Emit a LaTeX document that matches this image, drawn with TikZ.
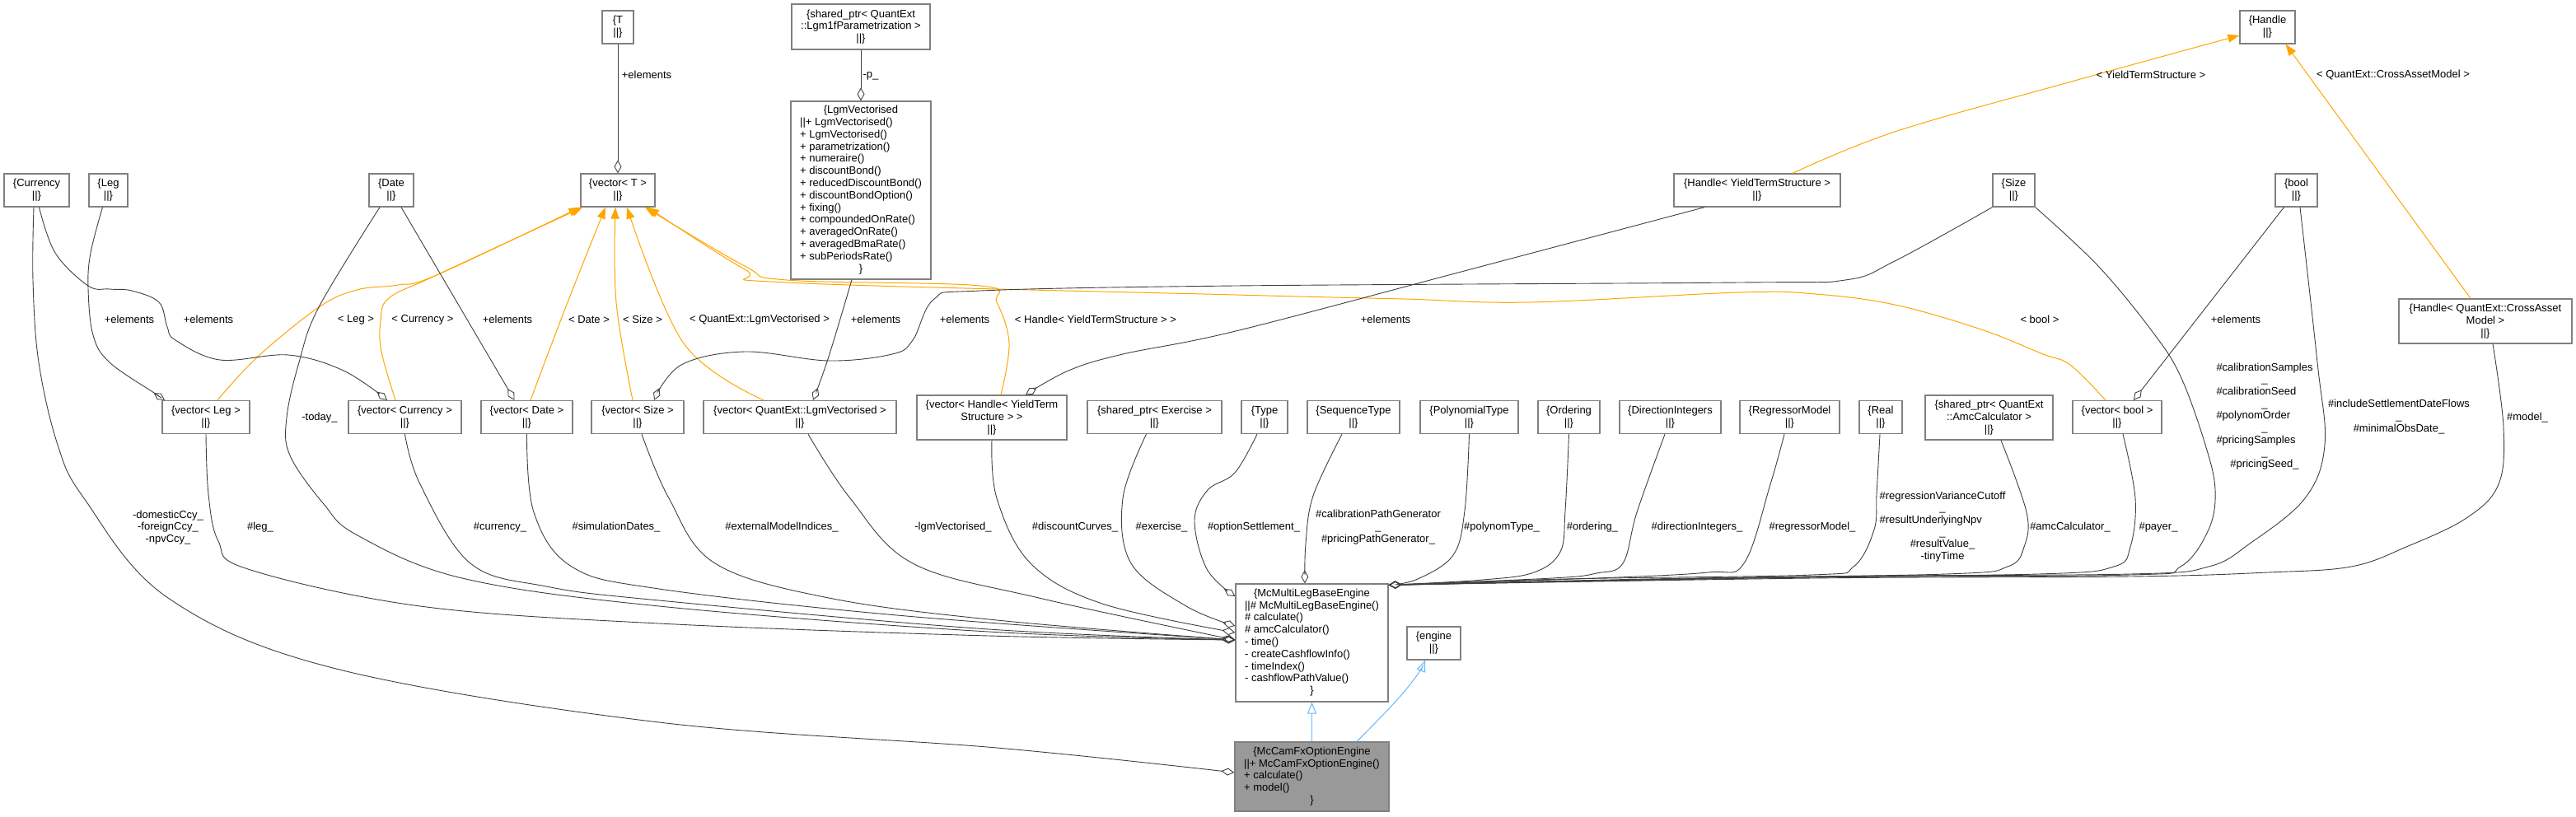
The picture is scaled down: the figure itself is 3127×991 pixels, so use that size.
\documentclass[tikz,border=0pt]{standalone}
\usepackage{fontspec}
\setmainfont{Liberation Sans}
\usetikzlibrary{arrows.meta}

\definecolor{edgegray}{HTML}{404040}
\definecolor{boxline}{HTML}{808080}
\definecolor{tmplorange}{HTML}{FFA500}
\definecolor{inhblue}{HTML}{63B8FF}
\definecolor{classgray}{HTML}{999999}
\newcommand{\umlfont}{\fontsize{13}{14.8}\selectfont}
\newcommand{\rolefont}{\fontsize{13}{14.7}\selectfont}
\newcommand{\crow}[1]{\multicolumn{1}{@{}c@{}}{#1}}

\begin{document}
\begin{tikzpicture}[
  x=1pt, y=-1pt,
  box/.style={draw=boxline, line width=1.3pt, fill=white, inner sep=0pt, align=center, font=\umlfont, minimum height=40pt},
  agg/.style={draw=edgegray, line width=0.9pt, -{Diamond[open, length=16pt, width=9pt]}},
  tmpl/.style={draw=tmplorange, line width=1pt, -{Triangle[length=14pt, width=10pt]}},
  inh/.style={draw=inhblue, line width=1pt, -{Triangle[open, length=14pt, width=11pt]}},
  lbl/.style={font=\rolefont, align=center, inner sep=0pt},
  sm/.style={smooth, tension=0.6},
]
\useasboundingbox (0,0) rectangle (3127,991);

% ---------------------------------------------------------------
% top row
% ---------------------------------------------------------------
\node[box, minimum width=38pt] (t) at (750,33) {\{T\\||\}};
\node[box, minimum width=168pt, minimum height=55pt] (lgmparam) at (1045,32.5) {\{shared\_ptr< QuantExt\\::Lgm1fParametrization >\\||\}};
\node[box, minimum width=67pt] (handle) at (2752.5,33) {\{Handle\\||\}};

% ---------------------------------------------------------------
% templates and plain types
% ---------------------------------------------------------------
\node[box, minimum width=79pt] (currency) at (44.5,231) {\{Currency\\||\}};
\node[box, minimum width=47pt] (leg) at (131.5,231) {\{Leg\\||\}};
\node[box, minimum width=54pt] (date) at (475,231) {\{Date\\||\}};
\node[box, minimum width=90pt] (vect) at (750,231) {\{vector< T >\\||\}};
\node[box, minimum width=170pt, minimum height=216pt] (lgmvec) at (1045,231) {%
  \begin{tabular}{@{}l@{}}
  \crow{\{LgmVectorised}\\
  ||+ LgmVectorised()\\
  + LgmVectorised()\\
  + parametrization()\\
  + numeraire()\\
  + discountBond()\\
  + reducedDiscountBond()\\
  + discountBondOption()\\
  + fixing()\\
  + compoundedOnRate()\\
  + averagedOnRate()\\
  + averagedBmaRate()\\
  + subPeriodsRate()\\
  \crow{\}}
  \end{tabular}};
\node[box, minimum width=202pt] (handleyts) at (2133,231) {\{Handle< YieldTermStructure >\\||\}};
\node[box, minimum width=51pt] (size) at (2444.5,231) {\{Size\\||\}};
\node[box, minimum width=51pt] (bool) at (2787.5,231) {\{bool\\||\}};
\node[box, minimum width=210pt, minimum height=54pt] (handlecam) at (3017,390) {\{Handle< QuantExt::CrossAsset\\Model >\\||\}};

% ---------------------------------------------------------------
% member types
% ---------------------------------------------------------------
\node[box, minimum width=106pt] (vleg) at (250,506.5) {\{vector< Leg >\\||\}};
\node[box, minimum width=137pt] (vcur) at (491.5,506.5) {\{vector< Currency >\\||\}};
\node[box, minimum width=111pt] (vdate) at (639.5,506.5) {\{vector< Date >\\||\}};
\node[box, minimum width=112pt] (vsize) at (774,506.5) {\{vector< Size >\\||\}};
\node[box, minimum width=234pt] (vlgm) at (971,506.5) {\{vector< QuantExt::LgmVectorised >\\||\}};
\node[box, minimum width=182pt, minimum height=54pt] (vyts) at (1204,507) {\{vector< Handle< YieldTerm\\Structure > >\\||\}};
\node[box, minimum width=163pt] (exercise) at (1401.5,506.5) {\{shared\_ptr< Exercise >\\||\}};
\node[box, minimum width=56pt] (type) at (1535,506.5) {\{Type\\||\}};
\node[box, minimum width=112pt] (seqtype) at (1643,506.5) {\{SequenceType\\||\}};
\node[box, minimum width=119pt] (polytype) at (1783.5,506.5) {\{PolynomialType\\||\}};
\node[box, minimum width=75pt] (ordering) at (1904.5,506.5) {\{Ordering\\||\}};
\node[box, minimum width=123pt] (dirint) at (2027.5,506.5) {\{DirectionIntegers\\||\}};
\node[box, minimum width=121pt] (regmodel) at (2172.5,506.5) {\{RegressorModel\\||\}};
\node[box, minimum width=52pt] (real) at (2283,506.5) {\{Real\\||\}};
\node[box, minimum width=155pt, minimum height=54pt] (amccalc) at (2414.5,507) {\{shared\_ptr< QuantExt\\::AmcCalculator >\\||\}};
\node[box, minimum width=108pt] (vbool) at (2570,506.5) {\{vector< bool >\\||\}};

% ---------------------------------------------------------------
% engines
% ---------------------------------------------------------------
\node[box, minimum width=185pt, minimum height=143pt] (base) at (1592.5,780.5) {%
  \begin{tabular}{@{}l@{}}
  \crow{\{McMultiLegBaseEngine}\\
  ||\# McMultiLegBaseEngine()\\
  \# calculate()\\
  \# amcCalculator()\\
  - time()\\
  - createCashflowInfo()\\
  - timeIndex()\\
  - cashflowPathValue()\\
  \crow{\}}
  \end{tabular}};
\node[box, minimum width=65pt] (engine) at (1740.5,781) {\{engine\\||\}};
\node[box, fill=classgray, minimum width=187pt, minimum height=84pt] (mccam) at (1592.5,943) {%
  \begin{tabular}{@{}l@{}}
  \crow{\{McCamFxOptionEngine}\\
  ||+ McCamFxOptionEngine()\\
  + calculate()\\
  + model()\\
  \crow{\}}
  \end{tabular}};

% ---------------------------------------------------------------
% template instantiations
% ---------------------------------------------------------------
\draw[tmpl] plot[sm] coordinates {([xshift=14pt]vleg.north) (313,433) (387,373) (433,352) (483,346) (530,334) (vect.south west)};
\draw[tmpl] plot[sm] coordinates {([xshift=-11.5pt]vcur.north) (463,427) (462,390) (472,362) (530,334) ([xshift=3pt]vect.south west)};
\draw[tmpl] plot[sm] coordinates {([xshift=4.5pt]vdate.north) (689,367) ([xshift=-15pt]vect.south)};
\draw[tmpl] plot[sm] coordinates {([xshift=-6pt]vsize.north) (748,367) ([xshift=-3pt]vect.south)};
\draw[tmpl] plot[sm] coordinates {([xshift=-44pt]vlgm.north) (830,417) ([xshift=11pt]vect.south)};
\draw[tmpl] plot[sm] coordinates {([xshift=11pt]vyts.north) (1225,417) (1210,367) (1190,347) (955,340) (904,323) ([xshift=33pt]vect.south)};
\draw[tmpl] plot[sm] coordinates {([xshift=-14pt]vbool.north) (2513,443) (2480,430) (2405,400) (2300,370) (2204,357) (2112,355) (1857,367) (1704,363) (1500,358) (955,343) (904,327) ([xshift=36pt]vect.south)};
\draw[tmpl] plot[sm] coordinates {([xshift=43pt]handleyts.north) (2300,160) (2511,100) ([yshift=-10pt]handle.west)};
\draw[tmpl] ([xshift=-18pt]handlecam.north) -- ([xshift=22pt]handle.south);

\node[lbl] (l-tleg) at (432,388) {< Leg >};
\node[lbl] (l-tcur) at (513,388) {< Currency >};
\node[lbl] (l-tdate) at (715,388) {< Date >};
\node[lbl] (l-tsize) at (780,388) {< Size >};
\node[lbl] (l-tlgm) at (922,388) {< QuantExt::LgmVectorised >};
\node[lbl] (l-tyts) at (1330,388) {< Handle< YieldTermStructure > >};
\node[lbl] (l-tbool) at (2476,388) {< bool >};
\node[lbl] (l-thyts) at (2611,91) {< YieldTermStructure >};
\node[lbl] (l-thcam) at (2905,91) {< QuantExt::CrossAssetModel >};

% ---------------------------------------------------------------
% members of the templates
% ---------------------------------------------------------------
\draw[agg] (t) -- (vect);
\draw[agg] (lgmparam) -- (lgmvec);
\draw[agg] plot[sm] coordinates {([xshift=-7pt]leg.south) (110,307) (107,350) (113,407) (133,440) (187,477) ([xshift=-50pt]vleg.north)};
\draw[agg] plot[sm] coordinates {([xshift=3pt]currency.south) (67,307) (107,347) (133,351) (160,353) (193,367) (203,397) (213,413) (267,437) (350,431) (417,450) ([xshift=-21.5pt]vcur.north)};
\draw[agg] ([xshift=12pt]date.south) -- ([xshift=-15pt]vdate.north);
\draw[agg] plot[sm] coordinates {(size.south west) (2300,317) (2240,340) (2112,343) (1500,347) (1190,353) (1134,363) (1108,413) (1083,430) (1006,438) (904,427) (827,443) ([xshift=20pt]vsize.north)};
\draw[agg] plot[sm] coordinates {([xshift=-11pt]lgmvec.south) (1006,433) ([xshift=16pt]vlgm.north)};
\draw[agg] plot[sm] coordinates {([xshift=-64pt]handleyts.south) (1785,327) (1500,402) (1363,430) (1297,450) ([xshift=41pt]vyts.north)};
\draw[agg] ([xshift=-15pt]bool.south) -- ([xshift=20pt]vbool.north);

\node[lbl] (l-t) at (785,91) {+elements};
\node[lbl] (l-p) at (1057,92) {-p\_};
\node[lbl] (l-leg) at (157,388) {+elements};
\node[lbl] (l-cur) at (253,388) {+elements};
\node[lbl] (l-date) at (616,388) {+elements};
\node[lbl] (l-lgm) at (1063,388) {+elements};
\node[lbl] (l-size) at (1171,388) {+elements};
\node[lbl] (l-yts) at (1682,388) {+elements};
\node[lbl] (l-bool) at (2714,388) {+elements};

% ---------------------------------------------------------------
% members of the engines
% ---------------------------------------------------------------
\draw[agg] plot[sm] coordinates {([xshift=-3.5pt]currency.south) (40,340) (47,440) (70,540) (102,605) (204,726) (408,812) (800,877) (1210,908) ([yshift=5pt]mccam.west)};
\draw[agg] plot[sm] coordinates {(vleg.south) (253,600) (265,657) (301,691) (510,736) (800,757) (1200,772) ([yshift=3.5pt]base.west)};
\draw[agg] plot[sm] coordinates {([xshift=-14pt]date.south) (387,373) (363,440) (348,507) (352,553) (393,612) (434,650) (561,702) (800,736) (1200,767) ([yshift=3.5pt]base.west)};
\draw[agg] plot[sm] coordinates {(vcur.south) (510,588) (571,684) (663,712) (800,729) (1200,764) ([yshift=3.5pt]base.west)};
\draw[agg] plot[sm] coordinates {(vdate.south) (648,622) (694,688) (800,715) (1100,748) ([yshift=3.5pt]base.west)};
\draw[agg] plot[sm] coordinates {([xshift=5pt]vsize.south) (812,605) (868,684) (1006,726) (1210,753) ([yshift=3.5pt]base.west)};
\draw[agg] plot[sm] coordinates {([xshift=10pt]vlgm.south) (1032,605) (1108,684) (1261,726) ([yshift=3.5pt]base.west)};
\draw[agg] plot[sm] coordinates {(vyts.south) (1210,605) (1251,684) (1338,733) ([yshift=12.5pt]base.west)};
\draw[agg] plot[sm] coordinates {([xshift=-10pt]exercise.south) (1363,605) (1373,684) (1440,736) ([yshift=20.5pt]base.west)};
\draw[agg] plot[sm] coordinates {([xshift=-9pt]type.south) (1499,574) (1466,595) (1450,632) (1465,691) ([yshift=56.5pt]base.west)};
\draw[agg] plot[sm] coordinates {([xshift=-14pt]seqtype.south) (1594,602) (1585,660) ([xshift=-8.5pt]base.north)};
\draw[agg] plot[sm] coordinates {(polytype.south) (1778,620) (1764,674) (1721,703) ([yshift=-2pt]base.north east)};
\draw[agg] plot[sm] coordinates {(ordering.south) (1900,620) (1894,670) (1862,695) (1800,704) ([yshift=-2pt]base.north east)};
\draw[agg] plot[sm] coordinates {([xshift=-6.5pt]dirint.south) (1987,622) (1970,684) (1938,696) (1884,702) ([yshift=-2pt]base.north east)};
\draw[agg] plot[sm] coordinates {([xshift=-6.5pt]regmodel.south) (2149,588) (2117,684) (2073,695) (1938,702) ([yshift=-2pt]base.north east)};
\draw[agg] plot[sm] coordinates {([xshift=-1pt]real.south) (2278,600) (2275,643) (2250,688) (2200,698) (1900,703) ([yshift=-2pt]base.north east)};
\draw[agg] plot[sm] coordinates {([xshift=14.5pt]amccalc.south) (2460,622) (2457,664) (2437,688) (2362,697) (2000,703) ([yshift=-2pt]base.north east)};
\draw[agg] plot[sm] coordinates {([xshift=7pt]vbool.south) (2592,605) (2586,664) (2566,688) (2474,697) (2100,702) ([yshift=-2pt]base.north east)};
\draw[agg] plot[sm] coordinates {(size.south east) (2547,323) (2613,403) (2647,457) (2677,540) (2689,595) (2681,643) (2647,688) (2586,698) (2200,701) ([yshift=-2pt]base.north east)};
\draw[agg] plot[sm] coordinates {([xshift=4.5pt]bool.south) (2813,440) (2822,540) (2798,605) (2731,660) (2681,688) (2586,697) (2200,700) ([yshift=-2pt]base.north east)};
\draw[agg] plot[sm] coordinates {([xshift=9pt]handlecam.south) (3039,519) (3033,588) (2994,629) (2921,664) (2854,688) (2753,695) (2586,700) (2200,702) ([yshift=-2pt]base.north east)};

\node[lbl] (l-ccy) at (204,640.5) {-domesticCcy\_\\-foreignCcy\_\\-npvCcy\_};
\node[lbl] (l-vleg) at (316,640.5) {\#leg\_};
\node[lbl] (l-today) at (388,507) {-today\_};
\node[lbl] (l-vcur) at (607,640.5) {\#currency\_};
\node[lbl] (l-vdate) at (748,640.5) {\#simulationDates\_};
\node[lbl] (l-vsize) at (949,640.5) {\#externalModelIndices\_};
\node[lbl] (l-vlgm) at (1157,640.5) {-lgmVectorised\_};
\node[lbl] (l-vyts) at (1305,640.5) {\#discountCurves\_};
\node[lbl] (l-exer) at (1410,640.5) {\#exercise\_};
\node[lbl] (l-type) at (1522,640.5) {\#optionSettlement\_};
\node[lbl] (l-seq) at (1673,640) {\#calibrationPathGenerator\\\_\\\#pricingPathGenerator\_};
\node[lbl] (l-poly) at (1823,640.5) {\#polynomType\_};
\node[lbl] (l-ord) at (1933,640.5) {\#ordering\_};
\node[lbl] (l-dir) at (2060,640.5) {\#directionIntegers\_};
\node[lbl] (l-reg) at (2200,640.5) {\#regressorModel\_};
\node[lbl] (l-real) at (2358,640) {%
  \begin{tabular}{@{}l@{}}
  \#regressionVarianceCutoff\\
  \crow{\_}\\
  \#resultUnderlyingNpv\\
  \crow{\_}\\
  \crow{\#resultValue\_}\\
  \crow{-tinyTime}
  \end{tabular}};
\node[lbl] (l-amc) at (2513,640.5) {\#amcCalculator\_};
\node[lbl] (l-vbool) at (2620,640.5) {\#payer\_};
\node[lbl] (l-size2) at (2749,506) {%
  \begin{tabular}{@{}l@{}}
  \#calibrationSamples\\
  \crow{\_}\\
  \#calibrationSeed\\
  \crow{\_}\\
  \#polynomOrder\\
  \crow{\_}\\
  \#pricingSamples\\
  \crow{\_}\\
  \crow{\#pricingSeed\_}
  \end{tabular}};
\node[lbl] (l-bool2) at (2912,506) {\#includeSettlementDateFlows\\\_\\\#minimalObsDate\_};
\node[lbl] (l-hcam) at (3068,507) {\#model\_};

% ---------------------------------------------------------------
% inheritance
% ---------------------------------------------------------------
\draw[inh] (mccam) -- (base);
\draw[inh] plot[sm] coordinates {([xshift=54.5pt]mccam.north) (1693,853) (1720,820) ([xshift=-10.5pt]engine.south)};

\end{tikzpicture}
\end{document}
